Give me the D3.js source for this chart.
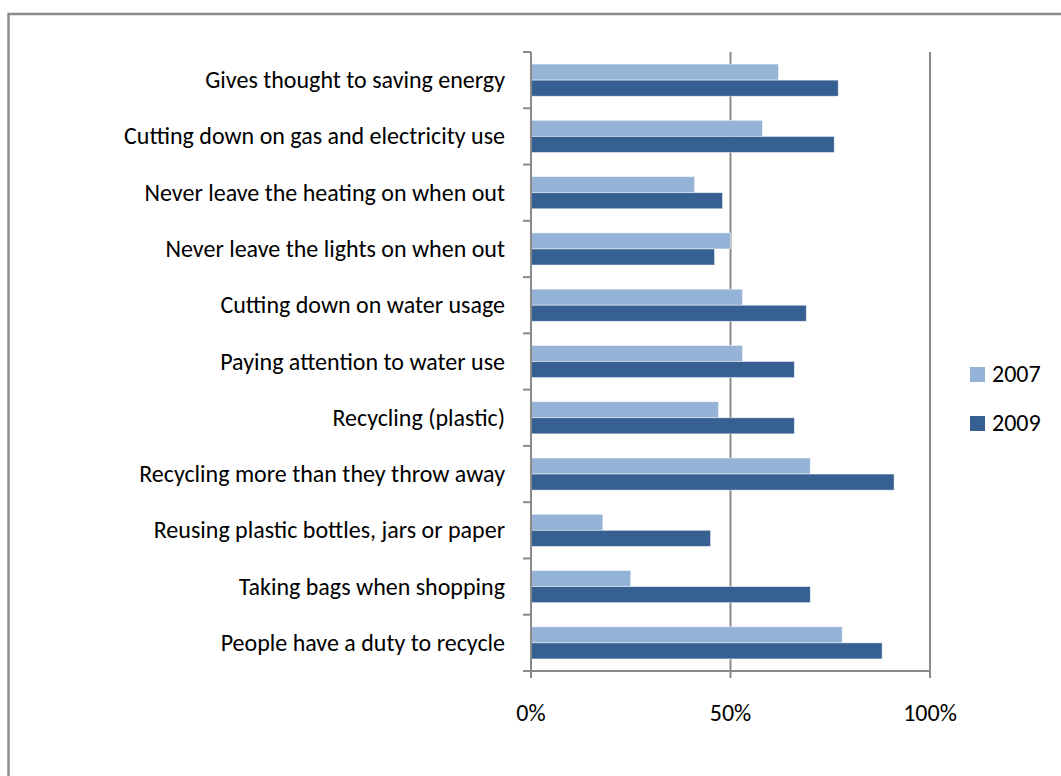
<!DOCTYPE html>
<html>
<head>
<meta charset="utf-8">
<script src="https://cdn.jsdelivr.net/npm/d3@7"></script>
<style>
  html, body { margin: 0; padding: 0; background: #fff; }
  svg { display: block; }
  text { font-family: Carlito, Calibri, Lato, sans-serif; fill: #000; }
</style>
</head>
<body>
<svg id="chart" width="1061" height="776"></svg>
<script>
// Energy and waste habits, share of respondents
const categories = [
  "Gives thought to saving energy",
  "Cutting down on gas and electricity use",
  "Never leave the heating on when out",
  "Never leave the lights on when out",
  "Cutting down on water usage",
  "Paying attention to water use",
  "Recycling (plastic)",
  "Recycling more than they throw away",
  "Reusing plastic bottles, jars or paper",
  "Taking bags when shopping",
  "People have a duty to recycle"
];
const seriesNames = ["2007", "2009"];
const values2007 = [0.62, 0.58, 0.41, 0.50, 0.53, 0.53, 0.47, 0.70, 0.18, 0.25, 0.78];
const values2009 = [0.77, 0.76, 0.48, 0.46, 0.69, 0.66, 0.66, 0.91, 0.45, 0.70, 0.88];
const tickValues = [0, 0.5, 1];
const tickLabels = ["0%", "50%", "100%"];
const seriesColors = ["#95b3d7", "#376092"];

const svg = d3.select("#chart");
const gridColor = "#8a8a8a";
const fontSize = 24;

// chart frame
svg.append("rect")
  .attr("x", 8.5).attr("y", 14)
  .attr("width", 1200).attr("height", 1000)
  .attr("fill", "none")
  .attr("stroke", "#8c8c8c")
  .attr("stroke-width", 2.5);

const plot = { left: 531, right: 930, top: 52, bottom: 671 };

const x = d3.scaleLinear().domain([0, 1]).range([plot.left, plot.right]);
const y = d3.scaleBand().domain(categories).range([plot.top, plot.bottom]);
const ySub = d3.scaleBand().domain(seriesNames).range([0, y.bandwidth()])
  .paddingInner(0).paddingOuter(0.75);

// vertical gridlines
svg.append("g").selectAll("line")
  .data(tickValues.filter(v => v > 0))
  .join("line")
  .attr("x1", d => x(d)).attr("x2", d => x(d))
  .attr("y1", plot.top).attr("y2", plot.bottom)
  .attr("stroke", gridColor).attr("stroke-width", 2);

// bars
const rows = categories.map((c, i) => ({ cat: c, vals: [values2007[i], values2009[i]] }));
const groups = svg.append("g").selectAll("g")
  .data(rows)
  .join("g")
  .attr("transform", d => `translate(0,${y(d.cat)})`);

groups.selectAll("rect")
  .data(d => d.vals.map((v, k) => ({ s: seriesNames[k], v, k })))
  .join("rect")
  .attr("x", x(0))
  .attr("y", d => ySub(d.s))
  .attr("width", d => x(d.v) - x(0))
  .attr("height", ySub.bandwidth())
  .attr("fill", d => seriesColors[d.k])
  .attr("stroke", "#ffffff")
  .attr("stroke-opacity", 0.6)
  .attr("stroke-width", 0.8);

// category axis line and ticks
const catAxis = svg.append("g");
catAxis.append("line")
  .attr("x1", plot.left).attr("x2", plot.left)
  .attr("y1", plot.top).attr("y2", plot.bottom + 7)
  .attr("stroke", gridColor).attr("stroke-width", 2);
const boundaries = categories.map(c => y(c)).concat([plot.bottom]);
catAxis.selectAll("line.tick")
  .data(boundaries)
  .join("line")
  .attr("class", "tick")
  .attr("x1", plot.left - 8).attr("x2", plot.left)
  .attr("y1", d => d).attr("y2", d => d)
  .attr("stroke", gridColor).attr("stroke-width", 2);

catAxis.selectAll("text")
  .data(categories)
  .join("text")
  .attr("x", plot.left - 26)
  .attr("y", d => y(d) + y.bandwidth() / 2 + 8)
  .attr("text-anchor", "end")
  .attr("font-size", fontSize)
  .text(d => d);

// value axis line, ticks and labels
const valAxis = svg.append("g");
valAxis.append("line")
  .attr("x1", plot.left - 8).attr("x2", plot.right + 1)
  .attr("y1", plot.bottom).attr("y2", plot.bottom)
  .attr("stroke", gridColor).attr("stroke-width", 2);
valAxis.selectAll("line.tick")
  .data(tickValues)
  .join("line")
  .attr("class", "tick")
  .attr("x1", d => x(d)).attr("x2", d => x(d))
  .attr("y1", plot.bottom).attr("y2", plot.bottom + 7)
  .attr("stroke", gridColor).attr("stroke-width", 2);
valAxis.selectAll("text")
  .data(tickValues)
  .join("text")
  .attr("x", d => x(d))
  .attr("y", plot.bottom + 50)
  .attr("text-anchor", "middle")
  .attr("font-size", fontSize)
  .text((d, i) => tickLabels[i]);

// legend
const legend = svg.append("g").attr("transform", "translate(970,367)");
const items = legend.selectAll("g")
  .data(seriesNames)
  .join("g")
  .attr("transform", (d, i) => `translate(0,${i * 49})`);
items.append("rect")
  .attr("width", 15).attr("height", 15)
  .attr("fill", (d, i) => seriesColors[i]);
items.append("text")
  .attr("x", 22).attr("y", 15)
  .attr("font-size", fontSize)
  .text(d => d);
</script>
</body>
</html>
